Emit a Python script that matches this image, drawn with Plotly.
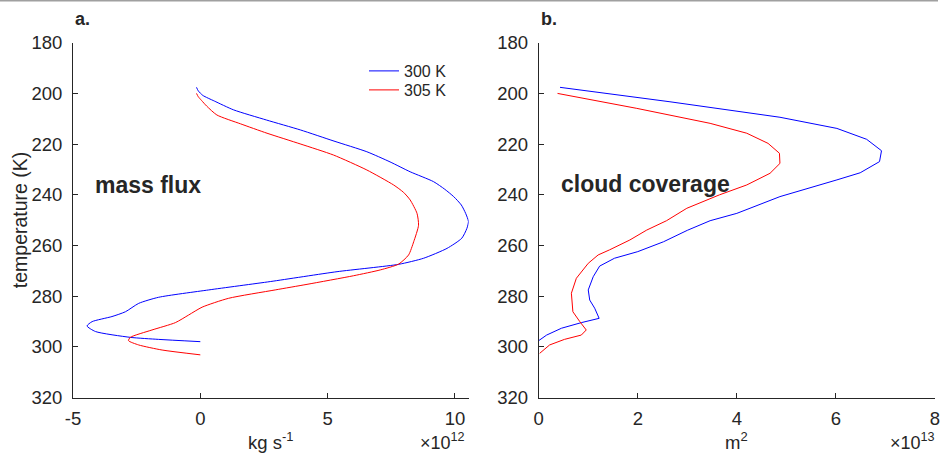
import plotly.graph_objects as go

W, H = 951, 455

# ---- data (mass flux in 1e12 kg/s, cloud coverage in 1e13 m^2, temperature in K) ----
mf300_T = [197.6, 199.0, 200.8, 203.0, 206.5, 210.5, 214.4, 218.8, 223.0, 227.0, 230.9, 234.8, 237.8,
           240.7, 244.0, 247.3, 250.5, 253.2, 257.1, 261.1, 265.0, 267.4, 270.3, 274.2, 277.5, 280.4,
           282.8, 286.1, 288.0, 290.0, 291.7, 293.9, 296.2, 297.0, 297.9]
mf300_v = [-0.15, -0.08, 0.10, 0.55, 1.31, 2.60, 3.93, 5.25, 6.54, 7.45, 8.24, 9.16, 9.60,
           9.95, 10.25, 10.42, 10.53, 10.47, 10.27, 9.69, 8.77, 7.79, 5.37, 2.75, 0.33, -1.64,
           -2.42, -2.94, -3.47, -4.25, -4.45, -4.12, -2.75, -1.64, 0.0]

mf305_T = [200.0, 201.3, 202.8, 205.0, 208.5, 212.0, 215.7, 220.0, 224.3, 230.2, 236.1, 239.0, 242.0,
           247.3, 252.0, 258.5, 263.7, 267.3, 269.6, 271.9, 275.3, 277.5, 280.8, 284.3, 287.4, 290.4,
           293.3, 296.2, 297.5, 299.2, 301.2, 303.1]
mf305_v = [-0.15, -0.08, 0.05, 0.25, 0.65, 1.58, 2.62, 3.95, 5.23, 6.54, 7.59, 7.98, 8.24,
           8.51, 8.57, 8.38, 8.18, 7.79, 7.07, 6.02, 4.19, 2.94, 1.11, 0.07, -0.46, -0.98,
           -1.90, -2.75, -2.82, -2.42, -1.50, 0.0]

cc300_T = [197.6, 203.3, 209.4, 213.8, 218.1, 222.6, 226.9, 231.3, 234.1, 240.7, 247.3, 250.2, 254.0,
           258.5, 262.4, 265.0, 268.1, 272.3, 277.5, 281.5, 284.7, 288.7, 290.4, 292.6, 295.3, 297.5]
cc300_v = [0.43, 2.65, 4.87, 6.02, 6.62, 6.92, 6.88, 6.49, 6.02, 4.87, 4.00, 3.46, 3.00,
           2.52, 2.00, 1.53, 1.23, 1.10, 1.00, 1.03, 1.13, 1.22, 0.86, 0.46, 0.16, 0.0]

cc305_T = [200.0, 205.9, 211.8, 215.7, 219.7, 223.6, 227.6, 231.5, 236.1, 240.0, 245.3, 250.2, 253.9,
           257.8, 261.7, 263.7, 267.0, 272.9, 278.8, 286.1, 290.0, 293.3, 295.3, 297.0, 299.2, 302.5]
cc305_v = [0.38, 1.98, 3.46, 4.20, 4.63, 4.86, 4.87, 4.67, 4.20, 3.65, 2.99, 2.58, 2.18,
           1.84, 1.43, 1.20, 1.00, 0.76, 0.66, 0.69, 0.83, 0.96, 0.86, 0.52, 0.22, 0.02]

series_names = ["300 K", "305 K"]
series_colors = ["#0000FF", "#FF0000"]

y_ticks = [180, 200, 220, 240, 260, 280, 300, 320]
x1_ticks = [-5, 0, 5, 10]
x1_ticktext = ["-5", "0", "5", "10"]
x2_ticks = [0, 2, 4, 6, 8]

AX = "#262626"
FONT = "Liberation Sans, Arial, Helvetica, sans-serif"


def px_x(p):
    return p / W


def px_y(p):
    return 1 - p / H


fig = go.Figure()
fig.add_trace(go.Scatter(x=mf300_v, y=mf300_T, mode="lines", name=series_names[0], legend="legend",
                         line=dict(color=series_colors[0], width=1, shape="spline", smoothing=0.6),
                         xaxis="x", yaxis="y"))
fig.add_trace(go.Scatter(x=mf305_v, y=mf305_T, mode="lines", name=series_names[1], legend="legend2",
                         line=dict(color=series_colors[1], width=1, shape="spline", smoothing=0.6),
                         xaxis="x", yaxis="y"))
fig.add_trace(go.Scatter(x=cc300_v, y=cc300_T, mode="lines", name=series_names[0], showlegend=False,
                         line=dict(color=series_colors[0], width=1), xaxis="x2", yaxis="y2"))
fig.add_trace(go.Scatter(x=cc305_v, y=cc305_T, mode="lines", name=series_names[1], showlegend=False,
                         line=dict(color=series_colors[1], width=1), xaxis="x2", yaxis="y2"))

common = dict(showline=True, linecolor=AX, linewidth=1, ticks="inside", ticklen=5, tickcolor=AX,
              tickwidth=1, showgrid=False, zeroline=False, mirror=False,
              tickfont=dict(family=FONT, size=18.5, color=AX), automargin=False)

yd = [px_y(397.7), px_y(42.7)]
leg_common = dict(xanchor="left", yanchor="middle", bgcolor="rgba(0,0,0,0)",
                  font=dict(family=FONT, size=16, color=AX))
fig.update_layout(
    width=W, height=H,
    margin=dict(l=0, r=0, t=0, b=0),
    paper_bgcolor="white", plot_bgcolor="white",
    font=dict(family=FONT, color=AX),
    xaxis=dict(domain=[px_x(73), px_x(468.7)], range=[-5, 10.54], tickvals=x1_ticks,
               ticktext=x1_ticktext, anchor="y", ticklabelstandoff=4, **common),
    yaxis=dict(domain=yd, range=[320, 180], tickvals=y_ticks, anchor="x", ticklabelstandoff=6, **common),
    xaxis2=dict(domain=[px_x(538.7), px_x(935)], range=[0, 8], tickvals=x2_ticks,
                anchor="y2", ticklabelstandoff=4, **common),
    yaxis2=dict(domain=yd, range=[320, 180], tickvals=y_ticks, anchor="x2", ticklabelstandoff=6, **common),
    showlegend=True,
    legend=dict(x=px_x(364), y=px_y(71), **leg_common),
    legend2=dict(x=px_x(364), y=px_y(90), **leg_common),
)

ann = [
    dict(text="<b>a.</b>", x=px_x(73), y=px_y(19), xanchor="left", yanchor="middle", size=18),
    dict(text="<b>b.</b>", x=px_x(539), y=px_y(19), xanchor="left", yanchor="middle", size=18),
    dict(text="<b>mass flux</b>", x=px_x(93), y=px_y(185), xanchor="left", yanchor="middle", size=23),
    dict(text="<b>cloud coverage</b>", x=px_x(559), y=px_y(184), xanchor="left", yanchor="middle", size=23),
    dict(text="kg s<sup>-1</sup>", x=px_x(270.9), y=px_y(441), xanchor="center", yanchor="middle", size=18.5),
    dict(text="m<sup>2</sup>", x=px_x(736.8), y=px_y(441), xanchor="center", yanchor="middle", size=18.5),
    dict(text="×10<sup>12</sup>", x=px_x(467), y=px_y(441), xanchor="right", yanchor="middle", size=18),
    dict(text="×10<sup>13</sup>", x=px_x(937), y=px_y(441), xanchor="right", yanchor="middle", size=18),
]
for a in ann:
    fig.add_annotation(text=a["text"], x=a["x"], y=a["y"], xref="paper", yref="paper",
                       xanchor=a["xanchor"], yanchor=a["yanchor"], showarrow=False,
                       font=dict(family=FONT, size=a["size"], color=AX))
fig.add_annotation(text="temperature (K)", x=px_x(20), y=px_y(220.2), xref="paper", yref="paper",
                   textangle=-90, showarrow=False, xanchor="center", yanchor="middle",
                   font=dict(family=FONT, size=19.5, color=AX))

# thin grey frame line at the very top of the figure
fig.add_shape(type="line", xref="paper", yref="paper", x0=0, x1=px_x(938), y0=px_y(0.8), y1=px_y(0.8),
              line=dict(color="#A0A0A0", width=1.5))

fig.write_html("out.html", config={"displayModeBar": False},
               post_script="document.body.style.margin='0';")
